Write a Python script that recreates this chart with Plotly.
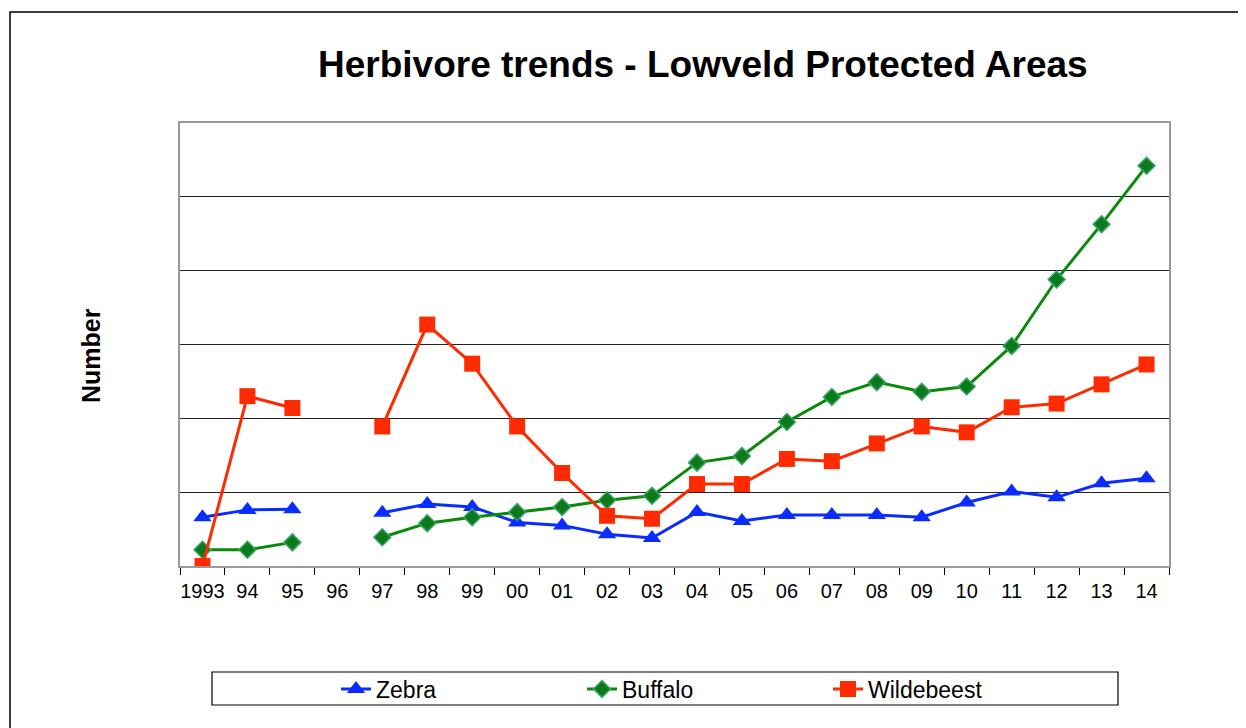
import plotly.graph_objects as go

years = ["1993", "94", "95", "96", "97", "98", "99", "00", "01", "02", "03",
         "04", "05", "06", "07", "08", "09", "10", "11", "12", "13", "14"]

# values in grid units (thousands); 1996 missing
zebra = [660, 760, 770, None, 720, 840, 800, 590, 550, 430, 380,
         730, 610, 690, 690, 690, 660, 860, 1010, 930, 1120, 1190]
buffalo = [220, 220, 320, None, 390, 580, 660, 730, 800, 890, 950,
           1400, 1490, 1950, 2290, 2490, 2360, 2430, 2980, 3880, 4630, 5420]
wildebeest = [0, 2300, 2140, None, 1890, 3270, 2740, 1890, 1260, 680, 640,
              1110, 1110, 1450, 1420, 1660, 1890, 1810, 2150, 2200, 2460, 2730]

OFF = 8  # page body margin
W, H = 1246 - OFF, 728 - OFF
L, R, T, B = 180 - OFF, 1169 - OFF, 123 - OFF, 566 - OFF
pw, ph = R - L, B - T

def px(x):
    return (x - OFF - L) / pw

def py(y):
    return (B - (y - OFF)) / ph

FONT = "Liberation Sans, Arial, sans-serif"

fig = go.Figure()
fig.add_trace(go.Scatter(
    x=years, y=zebra, name="Zebra", mode="lines+markers",
    line=dict(color="#0a2cff", width=3),
    marker=dict(symbol="triangle-up", size=16, color="#0a2cff"),
))
fig.add_trace(go.Scatter(
    x=years, y=buffalo, name="Buffalo", mode="lines+markers",
    line=dict(color="#0a8a0a", width=3),
    marker=dict(symbol="diamond", size=13, color="#0a7a1a",
                line=dict(color="#3aa36a", width=1.5)),
))
fig.add_trace(go.Scatter(
    x=years, y=wildebeest, name="Wildebeest", mode="lines+markers",
    line=dict(color="#ff2a00", width=3),
    marker=dict(symbol="square", size=16, color="#ff2a00"),
))

fig.update_layout(
    width=W, height=H,
    margin=dict(l=L, r=W - R, t=T, b=H - B, pad=0),
    paper_bgcolor="white", plot_bgcolor="white",
    font=dict(family=FONT, color="black"),
    showlegend=True,
    legend=dict(
        orientation="h", x=px(336), xanchor="left", y=py(689), yanchor="middle",
        bgcolor="rgba(0,0,0,0)", borderwidth=0,
        font=dict(size=23, family=FONT, color="black"),
        entrywidth=201, entrywidthmode="pixels", itemwidth=30,
    ),
    xaxis=dict(
        type="category", categoryorder="array", categoryarray=years,
        range=[-0.5, len(years) - 0.5],
        showgrid=False, zeroline=False,
        showline=True, linecolor="#999999", linewidth=2, mirror=True,
        ticks="outside", tickson="boundaries", ticklen=7, tickcolor="black",
        tickwidth=1, tickangle=0, ticklabelstandoff=6,
        tickfont=dict(size=20, family=FONT, color="black"),
    ),
    yaxis=dict(
        range=[0, 6000], dtick=1000, tick0=0,
        showgrid=True, gridcolor="#222222", gridwidth=1,
        zeroline=False, showticklabels=False, ticks="",
        showline=True, linecolor="#999999", linewidth=2, mirror=True,
    ),
    annotations=[
        dict(text="<b>Herbivore trends - Lowveld Protected Areas</b>",
             xref="paper", yref="paper", x=px(703), y=py(65),
             xanchor="center", yanchor="middle", showarrow=False,
             font=dict(size=37, family=FONT, color="black")),
        dict(text="<b>Number</b>", textangle=-90,
             xref="paper", yref="paper", x=px(91), y=py(356),
             xanchor="center", yanchor="middle", showarrow=False,
             font=dict(size=25, family=FONT, color="black")),
    ],
    shapes=[
        dict(type="rect", xref="paper", yref="paper",
             x0=px(10), x1=px(1270), y0=py(750), y1=py(12),
             line=dict(color="black", width=1.5), fillcolor="rgba(0,0,0,0)",
             layer="below"),
        dict(type="rect", xref="paper", yref="paper",
             x0=px(212), x1=px(1118), y0=py(705), y1=py(672),
             line=dict(color="black", width=1.2), fillcolor="rgba(0,0,0,0)",
             layer="below"),
    ],
)

fig.write_html("out.html")
